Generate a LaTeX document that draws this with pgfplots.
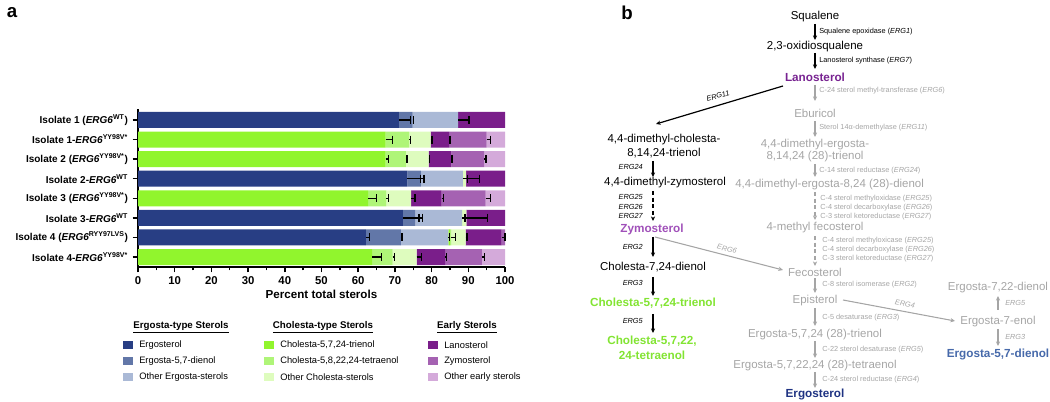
\documentclass[border=0pt]{standalone}
\usepackage{pgfplots}
\pgfplotsset{compat=1.18}
\usepackage{pgfplotstable}
\usepackage{fontspec}
\setmainfont{Liberation Sans}
\usetikzlibrary{arrows.meta}

\definecolor{cErg}{RGB}{40,62,132}
\definecolor{cDie}{RGB}{98,119,168}
\definecolor{cOE}{RGB}{170,185,214}
\definecolor{cCT}{RGB}{145,245,45}
\definecolor{cCTe}{RGB}{175,245,120}
\definecolor{cOC}{RGB}{222,252,190}
\definecolor{cLan}{RGB}{122,30,138}
\definecolor{cZym}{RGB}{165,98,178}
\definecolor{cOEa}{RGB}{212,170,218}
\definecolor{gtext}{RGB}{165,165,165}
\definecolor{lanotext}{RGB}{120,35,145}
\definecolor{zymtext}{RGB}{160,80,185}
\definecolor{choltext}{RGB}{130,228,50}
\definecolor{ergtext}{RGB}{30,50,130}
\definecolor{dientext}{RGB}{70,105,170}

% segment values, y = 9 - row (row 1 at top)
\pgfplotstableread{
y E D OE CT CTe OC L Z OEa
8 71.1 3.7 12.4 0 0 0 12.8 0 0
7 0 0 0 67.5 6.4 5.8 5.1 10.2 5.0
6 0 0 0 67.5 5.5 6.2 6.2 9.0 5.6
5 73.4 3.7 11.4 0 0 0.9 10.6 0 0
4 0 0 0 62.7 5.0 6.7 8.3 12.0 5.3
3 72.2 3.4 12.7 0 0 1.2 10.5 0 0
2 62.1 9.5 13.0 0.4 0.4 3.9 9.8 0.9 0
1 0 0 0 63.8 5.6 6.5 7.8 10.0 6.3
}\sterols

% error bars at cumulative segment ends
\pgfplotstableread{
c y e
71.1 8 3.2
74.8 8 0.2
87.2 8 3.0
67.5 7 1.9
73.9 7 0.4
79.7 7 0.4
84.8 7 0.2
95.0 7 1.1
67.5 6 0.7
73.0 6 0.3
79.2 6 0.2
85.4 6 0.2
94.4 6 0.4
73.4 5 3.6
77.1 5 0.8
88.5 5 1.2
89.4 5 3.6
62.7 4 2.3
67.7 4 0.5
74.4 4 1.1
82.7 4 0.5
94.7 4 1.4
72.2 3 4.4
75.6 3 1.9
88.3 3 0.8
89.5 3 5.7
62.1 2 0.9
71.6 2 0.3
84.6 2 0.3
85.4 2 1.2
89.3 2 0.3
99.1 2 0.9
63.8 1 2.6
69.4 1 0.4
75.9 1 1.4
83.7 1 0.3
93.7 1 0.8
}\errs

\newcommand{\erg}{\textit{ERG6}}

\begin{document}
\begin{tikzpicture}[
  main/.style={font=\fontsize{8.6}{10}\selectfont, inner sep=0pt},
  gr/.style={text=gtext},
  sm/.style={font=\fontsize{5.5}{6.5}\selectfont, inner sep=0pt, anchor=west},
  smr/.style={font=\fontsize{5.5}{6.5}\selectfont\itshape, inner sep=0pt, anchor=east},
  barr/.style={draw=black, line width=0.9pt, -{Stealth[length=3.5pt,width=3.2pt]}},
  garr/.style={draw=gtext, line width=0.8pt, -{Stealth[length=3.5pt,width=3.2pt]}},
  lg/.style={font=\fontsize{7}{8}\selectfont, inner sep=0pt, anchor=west},
  lh/.style={font=\fontsize{7.3}{8}\selectfont\bfseries, inner sep=0pt},
]
\begin{scope}[x=0.75pt, y=-0.75pt]
\coordinate (axSW) at (138,267);
\path (0,0) rectangle (1050,402);

% panel labels
\node[font=\fontsize{14}{14}\selectfont\bfseries, inner sep=0pt] at (12,13) {a};
\node[font=\fontsize{14}{14}\selectfont\bfseries, inner sep=0pt] at (627,13) {b};

% legend
\node[lh] at (181,327) {\underline{Ergosta-type Sterols}};
\node[lh] at (323,327) {\underline{Cholesta-type Sterols}};
\node[lh] at (467,327) {\underline{Early Sterols}};
\fill[cErg] (123,341) rectangle (133,349); \node[lg] at (139,345) {Ergosterol};
\fill[cDie] (123,357) rectangle (133,365); \node[lg] at (139,361) {Ergosta-5,7-dienol};
\fill[cOE]  (123,373) rectangle (133,381); \node[lg] at (139,377) {Other Ergosta-sterols};
\fill[cCT]  (264,341) rectangle (274,349); \node[lg] at (280,345) {Cholesta-5,7,24-trienol};
\fill[cCTe] (264,357) rectangle (274,365); \node[lg] at (280,361) {Cholesta-5,8,22,24-tetraenol};
\fill[cOC]  (264,373) rectangle (274,381); \node[lg] at (280,377) {Other Cholesta-sterols};
\fill[cLan] (428,341) rectangle (438,349); \node[lg] at (444,345) {Lanosterol};
\fill[cZym] (428,357) rectangle (438,365); \node[lg] at (444,361) {Zymosterol};
\fill[cOEa] (428,373) rectangle (438,381); \node[lg] at (444,377) {Other early sterols};

% pathway: main column
\node[main] at (815,17) {Squalene};
\draw[barr] (815,24) -- (815,40);
\node[sm] at (819,32) {Squalene epoxidase (\textit{ERG1})};
\node[main] at (815,47) {2,3-oxidiosqualene};
\draw[barr] (815,53) -- (815,69);
\node[sm] at (819,61) {Lanosterol synthase (\textit{ERG7})};
\node[main, font=\fontsize{8.8}{10}\selectfont\bfseries, text=lanotext] at (815,77) {Lanosterol};
\draw[garr] (815,85) -- (815,101);
\node[sm, gr] at (819,91) {C-24 sterol methyl-transferase (\textit{ERG6})};
\node[main, gr] at (815,113) {Eburicol};
\draw[garr] (815,121) -- (815,137);
\node[sm, gr] at (819,128) {Sterol 14α-demethylase (\textit{ERG11})};
\node[main, gr] at (815,145) {4,4-dimethyl-ergosta-};
\node[main, gr] at (815,157) {8,14,24 (28)-trienol};
\draw[garr] (815,164) -- (815,177);
\node[sm, gr] at (819,171) {C-14 sterol reductase (\textit{ERG24})};
\node[main, gr, anchor=west] at (735,185) {4,4-dimethyl-ergosta-8,24 (28)-dienol};
\draw[garr, dash pattern=on 3pt off 2pt] (815,192) -- (815,220);
\node[sm, gr] at (820,199) {C-4 sterol methyloxidase (\textit{ERG25})};
\node[sm, gr] at (820,208) {C-4 sterol decarboxylase (\textit{ERG26})};
\node[sm, gr] at (820,217) {C-3 sterol ketoreductase (\textit{ERG27})};
\node[main, gr] at (815,228) {4-methyl fecosterol};
\draw[garr, dash pattern=on 3pt off 2pt] (815,236) -- (815,266);
\node[sm, gr] at (822,241) {C-4 sterol methyloxicase (\textit{ERG25})};
\node[sm, gr] at (822,250) {C-4 sterol decarboxylase (\textit{ERG26})};
\node[sm, gr] at (822,259) {C-3 sterol ketoreductase (\textit{ERG27})};
\node[main, gr] at (815,272) {Fecosterol};
\draw[garr] (815,278) -- (815,293);
\node[sm, gr] at (822,285) {C-8 sterol isomerase (\textit{ERG2})};
\node[main, gr] at (815,301) {Episterol};
\draw[garr] (815,308) -- (815,326);
\node[sm, gr] at (822,318) {C-5 desaturase (\textit{ERG3})};
\node[main, gr] at (815,335) {Ergosta-5,7,24 (28)-trienol};
\draw[garr] (815,341) -- (815,358);
\node[sm, gr] at (822,350) {C-22 sterol desaturase (\textit{ERG5})};
\node[main, gr] at (815,366) {Ergosta-5,7,22,24 (28)-tetraenol};
\draw[garr] (815,372) -- (815,388);
\node[sm, gr] at (822,380) {C-24 sterol reductase (\textit{ERG4})};
\node[main, font=\fontsize{8.8}{10}\selectfont\bfseries, text=ergtext] at (815,394) {Ergosterol};

% right branch
\draw[garr] (843,300) -- (955,321);
\node[font=\fontsize{5.5}{6.5}\selectfont\itshape, text=gtext, rotate=-10.6] at (905,304) {ERG4};
\node[main, gr] at (998,288) {Ergosta-7,22-dienol};
\draw[garr] (998,310) -- (998,296);
\node[sm, gr, font=\fontsize{5.5}{6.5}\selectfont\itshape] at (1005,303) {ERG5};
\node[main, gr] at (998,322) {Ergosta-7-enol};
\draw[garr] (998,329) -- (998,346);
\node[sm, gr, font=\fontsize{5.5}{6.5}\selectfont\itshape] at (1005,337) {ERG3};
\node[main, font=\fontsize{8.8}{10}\selectfont\bfseries, text=dientext] at (998,354) {Ergosta-5,7-dienol};

% left branch
\draw[barr] (783,86) -- (656,124);
\node[font=\fontsize{5.5}{6.5}\selectfont\itshape, rotate=16.7] at (718,96) {ERG11};
\node[main] at (664,140) {4,4-dimethyl-cholesta-};
\node[main] at (664,153) {8,14,24-trienol};
\draw[barr] (653,161) -- (653,177);
\node[smr] at (643,167) {ERG24};
\node[main] at (665,183) {4,4-dimethyl-zymosterol};
\draw[barr, dash pattern=on 3pt off 2pt] (653,191) -- (653,221);
\node[smr] at (643,197) {ERG25};
\node[smr] at (643,207) {ERG26};
\node[smr] at (643,216) {ERG27};
\node[main, font=\fontsize{8.8}{10}\selectfont\bfseries, text=zymtext] at (652,229) {Zymosterol};
\draw[garr] (655,237) -- (783,270);
\node[font=\fontsize{5.5}{6.5}\selectfont\itshape, text=gtext, rotate=-14.5] at (727,249) {ERG6};
\draw[barr] (653,237) -- (653,257);
\node[smr] at (643,247) {ERG2};
\node[main] at (653,267) {Cholesta-7,24-dienol};
\draw[barr] (653,277) -- (653,296);
\node[smr] at (643,283) {ERG3};
\node[main, font=\fontsize{8.8}{10}\selectfont\bfseries, text=choltext] at (653,303) {Cholesta-5,7,24-trienol};
\draw[barr] (653,314) -- (653,333);
\node[smr] at (643,321) {ERG5};
\node[main, font=\fontsize{8.8}{10}\selectfont\bfseries, text=choltext] at (652,341) {Cholesta-5,7,22,};
\node[main, font=\fontsize{8.8}{10}\selectfont\bfseries, text=choltext] at (652,355) {24-tetraenol};
\end{scope}

\begin{axis}[
  at={(axSW)}, anchor=south west,
  scale only axis, width=275.25pt, height=118.5pt,
  xbar stacked, bar width=12pt,
  xmin=0, xmax=100, ymin=0.49, ymax=8.56,
  axis lines*=left,
  x axis line style={-, line width=1.3pt},
  y axis line style={-, line width=1.3pt},
  xtick={0,10,...,100}, minor x tick num=1,
  ytick={1,...,8},
  yticklabels={
    Isolate 4-\erg\textsuperscript{YY98V*},
    Isolate 4 (\erg\textsuperscript{RYY97LVS}),
    Isolate 3-\erg\textsuperscript{WT},
    Isolate 3 (\erg\textsuperscript{YY98V*}),
    Isolate 2-\erg\textsuperscript{WT},
    Isolate 2 (\erg\textsuperscript{YY98V*}),
    Isolate 1-\erg\textsuperscript{YY98V*},
    Isolate 1 (\erg\textsuperscript{WT})},
  tick align=outside, major tick length=4pt, minor tick length=2.5pt,
  tick style={line width=1.1pt, black},
  /pgf/number format/assume math mode=true,
  x tick label style={font=\fontsize{8.5}{10}\selectfont\bfseries},
  y tick label style={font=\fontsize{7.5}{9}\selectfont\bfseries},
  xlabel={Percent total sterols},
  xlabel style={font=\fontsize{8.7}{10}\selectfont\bfseries, yshift=3pt},
]
\addplot[fill=cErg, draw=none] table[x=E, y=y] {\sterols};
\addplot[fill=cDie, draw=none] table[x=D, y=y] {\sterols};
\addplot[fill=cOE, draw=none] table[x=OE, y=y] {\sterols};
\addplot[fill=cCT, draw=none] table[x=CT, y=y] {\sterols};
\addplot[fill=cCTe, draw=none] table[x=CTe, y=y] {\sterols};
\addplot[fill=cOC, draw=none] table[x=OC, y=y] {\sterols};
\addplot[fill=cLan, draw=none] table[x=L, y=y] {\sterols};
\addplot[fill=cZym, draw=none] table[x=Z, y=y] {\sterols};
\addplot[fill=cOEa, draw=none] table[x=OEa, y=y] {\sterols};
\end{axis}

\begin{axis}[
  at={(axSW)}, anchor=south west,
  scale only axis, width=275.25pt, height=118.5pt,
  xmin=0, xmax=100, ymin=0.49, ymax=8.56,
  hide axis, clip=false,
]
\addplot[draw=none, mark=none,
  error bars/.cd, x dir=plus, x explicit,
  error bar style={draw=black, line width=1pt},
  error mark options={draw=black, line width=1pt, mark size=3pt, rotate=90}]
  table[x=c, y=y, x error=e] {\errs};
\end{axis}
\end{tikzpicture}
\end{document}
